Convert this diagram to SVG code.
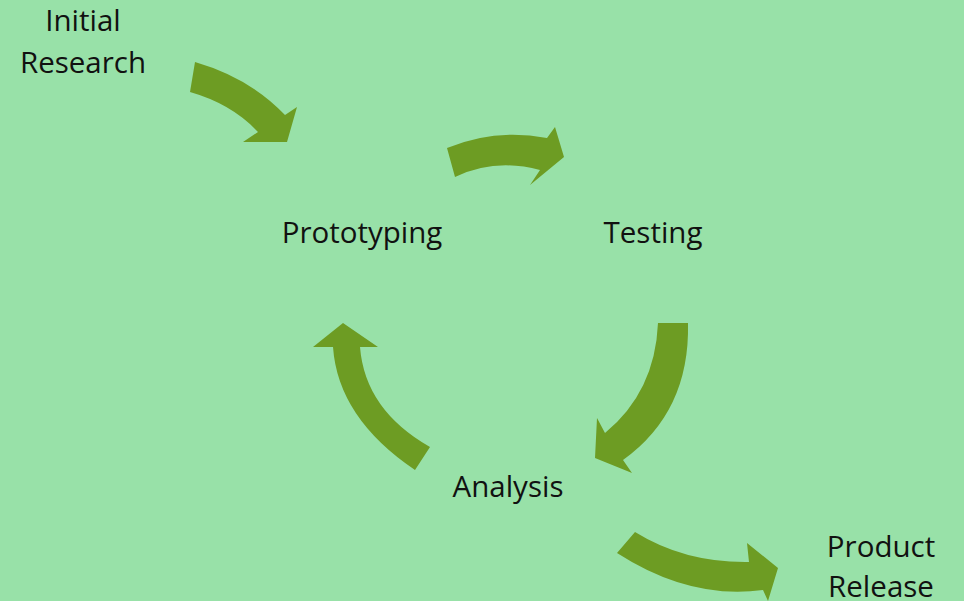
<svg xmlns="http://www.w3.org/2000/svg" width="964" height="601" viewBox="0 0 964 601">
<style>
.lbl{font-family:"Open Sans","Liberation Sans",sans-serif;font-size:29.5px;fill:#111;text-anchor:middle}
.arr{fill:#6D9C23;stroke:none}
</style>
<rect width="964" height="601" fill="#98E1A8"/>
<g id="connectors">
<path class="arr" d="M195,62 Q250,78 285,115 L297,107 L287,142 L243,142 L258,132 Q232,104 190,92 Z"/>
<path class="arr" d="M447,148 Q495,128 547,138 L555,127 L564,157 L530,185 L540,170 Q495,158 455,177 Z"/>
<path class="arr" d="M658,323 L688,323 Q690,412 623,460 L632,473 L595,458 L597,418 L605,433 Q655,392 658,323 Z"/>
<path class="arr" d="M343,323 L378,347 L360,347 Q365,410 430,447 L415,470 Q338,418 333,347 L313,347 Z"/>
<path class="arr" d="M635,532 Q685,563 749,562 L747,543 L778,568 L768,601 L763,590 Q690,600 617,553 Z"/>
</g>
<g id="initial-research"><text class="lbl" x="83" y="31">Initial</text><text class="lbl" x="83" y="73">Research</text></g>
<g id="prototyping"><text class="lbl" x="362" y="243">Prototyping</text></g>
<g id="testing"><text class="lbl" x="653" y="243">Testing</text></g>
<g id="analysis"><text class="lbl" x="508" y="497">Analysis</text></g>
<g id="product-release"><text class="lbl" x="881" y="557">Product</text><text class="lbl" x="881" y="597">Release</text></g>
</svg>
